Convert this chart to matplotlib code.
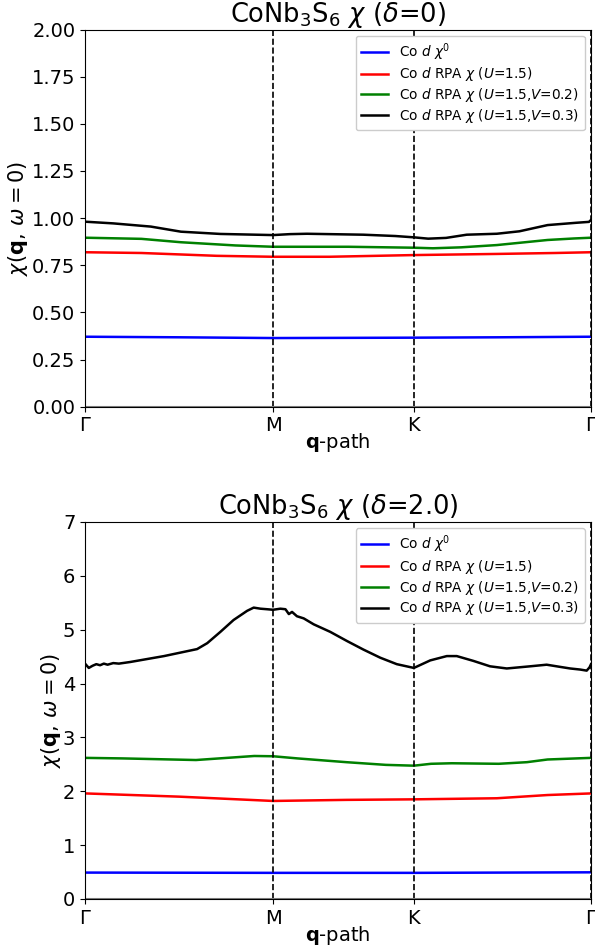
import matplotlib
matplotlib.use("Agg")
import matplotlib.pyplot as plt

# high-symmetry path
tick_pos = [0.0, 1.0, 1.749, 2.691]
tick_labels = ["Γ", "M", "K", "Γ"]

labels = [r"Co $d$ $\chi^0$",
          r"Co $d$ RPA $\chi$ ($U$=1.5)",
          r"Co $d$ RPA $\chi$ ($U$=1.5,$V$=0.2)",
          r"Co $d$ RPA $\chi$ ($U$=1.5,$V$=0.3)"]
colors = ["blue", "red", "green", "black"]

# ---- delta = 0 ----
top_blue_x = [0.0, 0.5, 1.0, 1.749, 2.2, 2.691]
top_blue_y = [0.371, 0.368, 0.364, 0.366, 0.368, 0.371]
top_red_x = [0.0, 0.3, 0.7, 1.0, 1.3, 1.749, 2.19, 2.5, 2.691]
top_red_y = [0.819, 0.815, 0.800, 0.795, 0.795, 0.804, 0.810, 0.815, 0.819]
top_green_x = [0.0, 0.3, 0.51, 0.8, 1.0, 1.4, 1.749, 1.85, 2.0, 2.19, 2.46, 2.6, 2.691]
top_green_y = [0.896, 0.890, 0.872, 0.855, 0.848, 0.848, 0.843, 0.840, 0.845, 0.857, 0.884, 0.892, 0.896]
top_black_x = [0.0, 0.15, 0.35, 0.51, 0.72, 1.0, 1.09, 1.18, 1.48, 1.65, 1.749, 1.825,
               1.92, 2.03, 2.19, 2.31, 2.46, 2.61, 2.68, 2.691]
top_black_y = [0.981, 0.972, 0.955, 0.928, 0.916, 0.910, 0.915, 0.917, 0.912, 0.905, 0.898, 0.891,
               0.895, 0.912, 0.917, 0.930, 0.963, 0.975, 0.980, 0.990]

# ---- delta = 2.0 ----
bot_blue_x = [0.0, 1.0, 1.749, 2.691]
bot_blue_y = [0.490, 0.485, 0.485, 0.495]
bot_red_x = [0.0, 0.5, 1.0, 1.39, 1.749, 2.19, 2.46, 2.691]
bot_red_y = [1.96, 1.90, 1.82, 1.84, 1.85, 1.87, 1.93, 1.96]
bot_green_x = [0.0, 0.2, 0.59, 0.9, 1.0, 1.13, 1.39, 1.6, 1.749, 1.84, 1.95, 2.2, 2.35, 2.46, 2.691]
bot_green_y = [2.62, 2.61, 2.58, 2.655, 2.65, 2.61, 2.54, 2.49, 2.475, 2.51, 2.52, 2.51, 2.54, 2.59, 2.62]
bot_black_x = [0.0, 0.02, 0.04, 0.06, 0.08, 0.10, 0.12, 0.15, 0.18, 0.24, 0.42, 0.596, 0.65,
               0.72, 0.79, 0.862, 0.897, 0.933, 0.968, 1.0, 1.039, 1.066, 1.084, 1.101, 1.127,
               1.163, 1.216, 1.304, 1.393, 1.481, 1.57, 1.658, 1.749, 1.836, 1.924, 1.977,
               2.066, 2.154, 2.243, 2.367, 2.455, 2.526, 2.58, 2.633, 2.668, 2.683, 2.691]
bot_black_y = [4.37, 4.29, 4.33, 4.36, 4.34, 4.37, 4.35, 4.38, 4.37, 4.40, 4.51, 4.64, 4.75,
               4.96, 5.18, 5.35, 5.41, 5.39, 5.38, 5.37, 5.39, 5.38, 5.29, 5.33, 5.25,
               5.21, 5.10, 4.96, 4.79, 4.63, 4.48, 4.36, 4.29, 4.43, 4.51, 4.51,
               4.42, 4.32, 4.28, 4.32, 4.35, 4.31, 4.28, 4.26, 4.24, 4.30, 4.36]

panels = [
    dict(title=r"CoNb$_3$S$_6$ $\chi$ ($\delta$=0)", ylim=(0, 2.0),
         yticks=[0, 0.25, 0.5, 0.75, 1.0, 1.25, 1.5, 1.75, 2.0], yfmt="{:.2f}",
         series=[(top_blue_x, top_blue_y), (top_red_x, top_red_y),
                 (top_green_x, top_green_y), (top_black_x, top_black_y)],
         rect=[0.1429, 0.5728, 0.8504, 0.3962], ylab_x=-0.109),
    dict(title=r"CoNb$_3$S$_6$ $\chi$ ($\delta$=2.0)", ylim=(0, 7),
         yticks=[0, 1, 2, 3, 4, 5, 6, 7], yfmt="{:d}",
         series=[(bot_blue_x, bot_blue_y), (bot_red_x, bot_red_y),
                 (bot_green_x, bot_green_y), (bot_black_x, bot_black_y)],
         rect=[0.1429, 0.0557, 0.8504, 0.3960], ylab_x=-0.043),
]

fig = plt.figure(figsize=(5.95, 9.52), dpi=100)
for p in panels:
    ax = fig.add_axes(p["rect"])
    for (xs, ys), c, lab in zip(p["series"], colors, labels):
        ax.plot(xs, ys, color=c, lw=1.8, label=lab)
    for t in tick_pos:
        ax.axvline(t, color="black", ls="--", lw=1.2)
    ax.axhline(0, color="gray", lw=1.5)
    ax.set_xlim(tick_pos[0], tick_pos[-1])
    ax.set_ylim(*p["ylim"])
    ax.set_xticks(tick_pos)
    ax.set_xticklabels(tick_labels, fontsize=14)
    ax.set_yticks(p["yticks"])
    ax.set_yticklabels([p["yfmt"].format(v) for v in p["yticks"]], fontsize=14)
    ax.set_xlabel(r"$\mathbf{q}$-path", fontsize=14, labelpad=-3)
    ax.set_ylabel(r"$\chi(\mathbf{q},\,\omega=0)$", fontsize=15)
    ax.yaxis.set_label_coords(p["ylab_x"], 0.5)
    ax.set_title(p["title"], fontsize=18.5, pad=3)
    leg = ax.legend(loc="upper right", fontsize=9.8, labelspacing=0.2,
                    borderaxespad=0.45, framealpha=1.0)
    leg.set_zorder(10)

fig.savefig("out.png", dpi=100)
